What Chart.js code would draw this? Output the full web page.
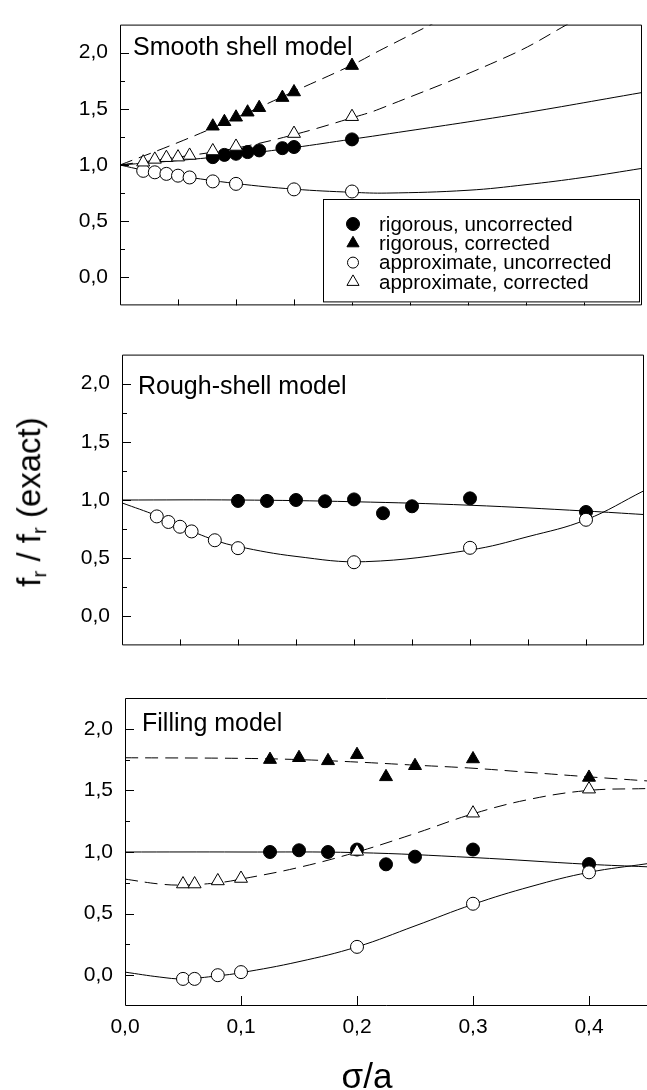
<!DOCTYPE html>
<html>
<head>
<meta charset="utf-8">
<script src="https://cdn.jsdelivr.net/npm/chart.js@4.4.1/dist/chart.umd.min.js"></script>
<style>
  html,body{margin:0;padding:0;background:#fff;}
  body{width:647px;height:1090px;position:relative;overflow:hidden;font-family:"Liberation Sans",Arial,sans-serif;}
  canvas{position:absolute;left:0;}
  #ytitle{position:absolute;left:31px;top:502px;transform:translate(-50%,-50%) rotate(-90deg);white-space:nowrap;font-size:33px;color:#000;line-height:1;}
  #ytitle sub{font-size:0.62em;vertical-align:-0.3em;}
</style>
</head>
<body>
<canvas id="c1" width="647" height="330" style="top:0px"></canvas>
<canvas id="c2" width="647" height="340" style="top:330px"></canvas>
<canvas id="c3" width="647" height="420" style="top:670px"></canvas>
<div id="ytitle">f<sub>r</sub> / f<sub>r</sub> (exact)</div>
<script>
// ---------------- DATA ----------------
const Y_TICKS = [0, 0.5, 1.0, 1.5, 2.0];            // labelled y ticks
const Y_MINOR = [0.25, 0.75, 1.25, 1.75];           // unlabelled y ticks
const X_TICKS = [0, 0.1, 0.2, 0.3, 0.4];            // labelled x ticks
const X_FINE  = [0.05, 0.15, 0.25, 0.35];           // extra x tick marks (upper panels)
const X_LABEL = 'σ/a';
const LEGEND_LABELS = ['rigorous, uncorrected', 'rigorous, corrected', 'approximate, uncorrected', 'approximate, corrected'];
const PANEL_TITLES = ['Smooth shell model', 'Rough-shell model', 'Filling model'];

// Panel 1 : Smooth shell model
const P1_SIG_RIG = [0.08, 0.09, 0.10, 0.11, 0.12, 0.14, 0.15, 0.20];
const P1_RIG_UNC = [1.07, 1.09, 1.10, 1.115, 1.13, 1.15, 1.16, 1.228];
const P1_RIG_COR = [1.345, 1.385, 1.425, 1.47, 1.51, 1.60, 1.65, 1.885];
const P1_SIG_APP = [0.02, 0.03, 0.04, 0.05, 0.06, 0.08, 0.10, 0.15, 0.20];
const P1_APP_UNC = [0.948, 0.935, 0.921, 0.905, 0.889, 0.854, 0.832, 0.783, 0.764];
const P1_APP_COR = [1.025, 1.05, 1.065, 1.07, 1.085, 1.125, 1.165, 1.28, 1.43];
// fitted curves
const P1_FIT_RC_X = [0, 0.05, 0.10, 0.15, 0.20, 0.224, 0.27, 0.28];
const P1_FIT_RC_Y = [1.0, 1.20, 1.42, 1.655, 1.89, 2.02, 2.26, 2.31];
const P1_FIT_AC_X = [0, 0.05, 0.10, 0.15, 0.20, 0.224, 0.337, 0.387, 0.40];
const P1_FIT_AC_Y = [1.0, 1.07, 1.15, 1.27, 1.42, 1.50, 1.98, 2.26, 2.34];
const P1_FIT_RU_X = [0, 0.05, 0.10, 0.15, 0.20, 0.224, 0.337, 0.45];
const P1_FIT_RU_Y = [1.0, 1.04, 1.09, 1.155, 1.23, 1.266, 1.444, 1.645];
const P1_FIT_AU_X = [0, 0.02, 0.05, 0.10, 0.15, 0.20, 0.23, 0.30, 0.35, 0.40, 0.45];
const P1_FIT_AU_Y = [1.0, 0.955, 0.905, 0.835, 0.785, 0.757, 0.750, 0.775, 0.825, 0.89, 0.97];

// Panel 2 : Rough-shell model
const P2_SIG_RIG = [0.10, 0.125, 0.15, 0.175, 0.20, 0.225, 0.25, 0.30, 0.40];
const P2_RIG_UNC = [0.992, 0.992, 1.00, 0.989, 1.005, 0.886, 0.946, 1.014, 0.897];
const P2_SIG_APP = [0.03, 0.04, 0.05, 0.06, 0.08, 0.10, 0.20, 0.30, 0.40];
const P2_APP_UNC = [0.859, 0.811, 0.770, 0.730, 0.654, 0.586, 0.465, 0.589, 0.830];
const P2_FIT_RU_X = [0, 0.10, 0.20, 0.30, 0.40, 0.45];
const P2_FIT_RU_Y = [1.0, 1.0, 0.985, 0.955, 0.905, 0.875];
const P2_FIT_AU_X = [0, 0.03, 0.05, 0.08, 0.10, 0.15, 0.21, 0.30, 0.35, 0.40, 0.45];
const P2_FIT_AU_Y = [0.975, 0.865, 0.775, 0.655, 0.600, 0.515, 0.470, 0.570, 0.685, 0.830, 1.08];

// Panel 3 : Filling model
const P3_SIG_RIG = [0.125, 0.15, 0.175, 0.20, 0.225, 0.25, 0.30, 0.40];
const P3_RIG_UNC = [1.00, 1.014, 1.00, 1.02, 0.90, 0.962, 1.02, 0.902];
const P3_RIG_COR = [1.75, 1.765, 1.74, 1.79, 1.61, 1.70, 1.755, 1.605];
const P3_SIG_APP = [0.05, 0.06, 0.08, 0.10, 0.20, 0.30, 0.40];
const P3_APP_UNC = [-0.03, -0.03, 0.0, 0.025, 0.23, 0.58, 0.835];
const P3_APP_COR = [0.74, 0.74, 0.765, 0.785, 1.005, 1.315, 1.51];
const P3_FIT_RC_X = [0, 0.10, 0.15, 0.20, 0.25, 0.30, 0.35, 0.40, 0.45];
const P3_FIT_RC_Y = [1.765, 1.76, 1.75, 1.73, 1.705, 1.68, 1.645, 1.61, 1.577];
const P3_FIT_AC_X = [0, 0.03, 0.05, 0.08, 0.10, 0.15, 0.20, 0.25, 0.30, 0.35, 0.40, 0.45];
const P3_FIT_AC_Y = [0.78, 0.74, 0.732, 0.75, 0.78, 0.875, 1.0, 1.15, 1.31, 1.43, 1.50, 1.515];
const P3_FIT_RU_X = [0, 0.10, 0.20, 0.30, 0.40, 0.45];
const P3_FIT_RU_Y = [1.0, 1.0, 0.995, 0.955, 0.90, 0.88];
const P3_FIT_AU_X = [0, 0.03, 0.05, 0.08, 0.10, 0.15, 0.20, 0.25, 0.30, 0.35, 0.40, 0.45];
const P3_FIT_AU_Y = [0.025, -0.015, -0.03, -0.005, 0.02, 0.11, 0.23, 0.40, 0.575, 0.72, 0.835, 0.905];

// ---------------- helpers ----------------
const FONT = '"Liberation Sans", Arial, Helvetica, sans-serif';
Chart.defaults.font.family = FONT;
Chart.defaults.color = '#000';

const pts = (xs, ys) => xs.map((x, i) => ({x: x, y: ys[i]}));

function markers(label, xs, ys, style, filled, order) {
  return {
    label: label, data: pts(xs, ys), showLine: false,
    pointStyle: style, pointRadius: style === 'triangle' ? 7.5 : 6.5,
    pointBackgroundColor: filled ? '#000' : '#fff', pointBorderColor: '#000',
    pointBorderWidth: 1, order: order,
    legendRadius: style === 'triangle' ? 7 : (filled ? 6.5 : 5.5)
  };
}
function curve(xs, ys, dashed) {
  return {
    label: '', data: pts(xs, ys), showLine: true, pointRadius: 0,
    borderColor: '#000', borderWidth: 1, borderDash: dashed ? [13, 7] : [],
    tension: 0.4, fill: false, order: 20
  };
}
function fmt(v) { return v.toFixed(1).replace('.', ','); }
function near(v, list) { return list.some(t => Math.abs(t - v) < 1e-6); }

// frame + inward tick marks + panel title + axis title + optional legend box
const framePlugin = {
  id: 'framePlugin',
  afterDatasetsDraw(chart, args, o) {
    const {ctx, chartArea: a, scales: {x, y}} = chart;
    ctx.save();
    ctx.strokeStyle = '#000';
    ctx.lineWidth = 1;
    ctx.beginPath();
    ctx.moveTo(a.left + 0.5, a.top + 0.5);
    ctx.lineTo(a.left + 0.5, a.bottom - 0.5);
    ctx.lineTo(o.right ? a.right - 0.5 : a.right + 2, a.bottom - 0.5);
    if (o.right) { ctx.lineTo(a.right - 0.5, a.top + 0.5); ctx.lineTo(a.left + 0.5, a.top + 0.5); }
    else { ctx.moveTo(a.left + 0.5, a.top + 0.5); ctx.lineTo(a.right + 2, a.top + 0.5); }
    ctx.stroke();
    ctx.beginPath();
    y.ticks.forEach(t => {
      if (t.value <= y.min + 1e-9 || t.value >= y.max - 1e-9) return;
      const py = Math.round(y.getPixelForValue(t.value)) + 0.5;
      const len = near(t.value, Y_TICKS) ? 9 : 5;
      ctx.moveTo(a.left, py); ctx.lineTo(a.left + len, py);
    });
    x.ticks.forEach(t => {
      if (t.value <= x.min + 1e-9 || t.value >= x.max - 1e-9) return;
      const px = Math.round(x.getPixelForValue(t.value)) + 0.5;
      ctx.moveTo(px, a.bottom); ctx.lineTo(px, a.bottom - o.xTickLen);
    });
    ctx.stroke();
    // panel title
    ctx.fillStyle = '#000';
    ctx.font = o.titleSize + 'px ' + FONT;
    ctx.textBaseline = 'alphabetic';
    ctx.textAlign = 'left';
    ctx.fillText(o.title, a.left + o.titleDx, a.top + o.titleDy);
    // x axis title
    if (o.xTitle) {
      ctx.font = o.xTitle.size + 'px ' + FONT;
      ctx.textAlign = 'center';
      ctx.fillText(o.xTitle.text, a.left + o.xTitle.dx, a.bottom + o.xTitle.dy);
    }
    // legend
    if (o.legend) {
      const L = o.legend;
      const bl = a.right - L.fromRight, br = a.right - 2, bt = L.top, bb = a.bottom - 3;
      ctx.fillStyle = '#fff';
      ctx.fillRect(bl, bt, br - bl, bb - bt);
      ctx.strokeRect(bl + 0.5, bt + 0.5, br - bl - 1, bb - bt - 1);
      const items = chart.data.datasets.filter(d => LEGEND_LABELS.includes(d.label))
        .sort((p, q) => LEGEND_LABELS.indexOf(p.label) - LEGEND_LABELS.indexOf(q.label));
      ctx.font = L.size + 'px ' + FONT;
      ctx.textBaseline = 'middle';
      ctx.textAlign = 'left';
      items.forEach((d, i) => {
        const cy = L.firstRow + i * L.rowGap;
        const cx = bl + L.markerDx;
        ctx.fillStyle = d.pointBackgroundColor;
        ctx.strokeStyle = d.pointBorderColor;
        ctx.lineWidth = 1;
        Chart.helpers.drawPoint(ctx, {pointStyle: d.pointStyle, radius: d.legendRadius, borderWidth: 1, rotation: 0}, cx, cy);
        ctx.fillStyle = '#000';
        ctx.fillText(d.label, bl + L.textDx, cy + 1);
      });
    }
    ctx.restore();
  }
};

function yScale(width) {
  return {
    type: 'linear', min: -0.25, max: 2.25,
    grid: {display: false, drawTicks: false},
    border: {display: false},
    afterFit: s => { s.width = width; },
    afterBuildTicks: s => { s.ticks = Y_TICKS.concat(Y_MINOR).sort((p, q) => p - q).map(v => ({value: v})); },
    ticks: {
      autoSkip: false, padding: 12,
      font: {size: 21},
      callback: v => near(v, Y_TICKS) ? fmt(v) : ''
    }
  };
}
function xScale(marks, showLabels, height) {
  return {
    type: 'linear', min: 0, max: 0.45,
    grid: {display: false, drawTicks: false},
    border: {display: false},
    afterFit: sc => { sc.height = height; },
    afterBuildTicks: sc => { sc.ticks = marks.slice().sort((p, q) => p - q).map(v => ({value: v})); },
    ticks: {
      autoSkip: false, maxRotation: 0, display: showLabels,
      padding: 9, font: {size: 21},
      callback: v => near(v, X_TICKS) ? fmt(v) : ''
    }
  };
}
function makeChart(id, datasets, pad, yW, xOpt, frameOpt) {
  return new Chart(document.getElementById(id), {
    type: 'scatter',
    data: {datasets: datasets},
    options: {
      responsive: false, animation: false, events: [],
      layout: {padding: pad, autoPadding: false},
      scales: {x: xOpt, y: yScale(yW)},
      plugins: {legend: {display: false}, tooltip: {enabled: false}, framePlugin: frameOpt}
    },
    plugins: [framePlugin]
  });
}

// ---------------- Panel 1 ----------------
makeChart('c1', [
  markers(LEGEND_LABELS[0], P1_SIG_RIG, P1_RIG_UNC, 'circle', true, 4),
  markers(LEGEND_LABELS[1], P1_SIG_RIG, P1_RIG_COR, 'triangle', true, 3),
  markers(LEGEND_LABELS[2], P1_SIG_APP, P1_APP_UNC, 'circle', false, 2),
  markers(LEGEND_LABELS[3], P1_SIG_APP, P1_APP_COR, 'triangle', false, 1),
  curve(P1_FIT_RC_X, P1_FIT_RC_Y, true),
  curve(P1_FIT_AC_X, P1_FIT_AC_Y, true),
  curve(P1_FIT_RU_X, P1_FIT_RU_Y, false),
  curve(P1_FIT_AU_X, P1_FIT_AU_Y, false)
], {top: 7, right: 5, bottom: 15, left: 0}, 120, xScale(X_TICKS.concat(X_FINE), false, 0),
{right: true, xTickLen: 6, title: PANEL_TITLES[0], titleSize: 25, titleDx: 13, titleDy: 30,
 legend: {fromRight: 319, top: 199, size: 20.5, firstRow: 224, rowGap: 19.3, markerDx: 30, textDx: 56}});

// ---------------- Panel 2 ----------------
makeChart('c2', [
  markers(LEGEND_LABELS[0], P2_SIG_RIG, P2_RIG_UNC, 'circle', true, 4),
  markers(LEGEND_LABELS[2], P2_SIG_APP, P2_APP_UNC, 'circle', false, 2),
  curve(P2_FIT_RU_X, P2_FIT_RU_Y, false),
  curve(P2_FIT_AU_X, P2_FIT_AU_Y, false)
], {top: 15, right: 3, bottom: 17, left: 0}, 122, xScale(X_TICKS.concat(X_FINE), false, 0),
{right: true, xTickLen: 6, title: PANEL_TITLES[1], titleSize: 25, titleDx: 16, titleDy: 39});

// ---------------- Panel 3 ----------------
makeChart('c3', [
  markers(LEGEND_LABELS[0], P3_SIG_RIG, P3_RIG_UNC, 'circle', true, 4),
  markers(LEGEND_LABELS[1], P3_SIG_RIG, P3_RIG_COR, 'triangle', true, 3),
  markers(LEGEND_LABELS[2], P3_SIG_APP, P3_APP_UNC, 'circle', false, 2),
  markers(LEGEND_LABELS[3], P3_SIG_APP, P3_APP_COR, 'triangle', false, 1),
  curve(P3_FIT_RC_X, P3_FIT_RC_Y, true),
  curve(P3_FIT_AC_X, P3_FIT_AC_Y, true),
  curve(P3_FIT_RU_X, P3_FIT_RU_Y, false),
  curve(P3_FIT_AU_X, P3_FIT_AU_Y, false)
], {top: 28, right: 0, bottom: 0, left: 0}, 125, xScale(X_TICKS, true, 84),
{right: false, xTickLen: 10, title: PANEL_TITLES[2], titleSize: 25, titleDx: 17, titleDy: 33,
 xTitle: {text: X_LABEL, size: 35, dx: 242, dy: 82}});
</script>
</body>
</html>
